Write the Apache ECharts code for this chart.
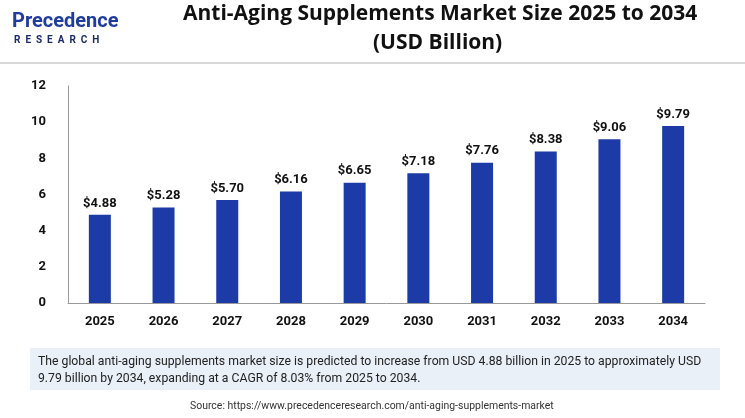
<!DOCTYPE html>
<html lang="en">
<head>
<meta charset="UTF-8">
<title>Anti-Aging Supplements Market</title>
<script src="https://cdn.jsdelivr.net/npm/echarts@6/dist/echarts.min.js"></script>
<style>
  html, body { margin: 0; padding: 0; background: #fff; }
  #chart { width: 745px; height: 418px; }
</style>
</head>
<body>
<div id="chart"></div>
<script>
var years = ['2025', '2026', '2027', '2028', '2029', '2030', '2031', '2032', '2033', '2034'];
var values = [4.88, 5.28, 5.70, 6.16, 6.65, 7.18, 7.76, 8.38, 9.06, 9.79];

var chart = echarts.init(document.getElementById('chart'));
var font = 'Roboto, "Liberation Sans", sans-serif';

var option = {
    animation: false,
    grid: { left: 68, right: 40, top: 86, bottom: 115 },
    xAxis: {
        type: 'category',
        data: years,
        axisLine: { lineStyle: { color: '#999' } },
        axisTick: { show: false },
        axisLabel: { color: '#111', fontWeight: 'bold', fontSize: 13, fontFamily: font, margin: 12 }
    },
    yAxis: {
        type: 'value',
        min: 0, max: 12, interval: 2,
        axisLine: { show: true, lineStyle: { color: '#999' } },
        splitLine: { show: false },
        axisLabel: { color: '#111', fontWeight: 'bold', fontSize: 13, fontFamily: font, margin: 22 }
    },
    series: [{
        type: 'bar',
        data: values,
        barWidth: 22,
        itemStyle: { color: '#1c3ba6' },
        label: {
            show: true, position: 'top', distance: 5,
            formatter: function (p) { return '$' + p.value.toFixed(2); },
            color: '#111', fontWeight: 'bold', fontSize: 13, fontFamily: font
        }
    }],
    graphic: [
        // logo
        { type: 'text', left: 12, top: 12, style: { text: 'Precedence', fill: '#1f3d9c', font: 'bold 20px ' + font } },
        { type: 'text', left: 14, top: 35, style: { text: 'R  E  S  E  A  R  C  H', fill: '#1a2a6c', font: 'bold 10px ' + font } },
        // title
        { type: 'text', left: 183, top: 4, style: { text: 'Anti-Aging Supplements Market Size 2025 to 2034', fill: '#111', font: 'bold 21px "Open Sans", sans-serif' } },
        { type: 'text', left: 373, top: 33, style: { text: '(USD Billion)', fill: '#111', font: 'bold 21px "Open Sans", sans-serif' } },
        // separator
        { type: 'rect', shape: { x: 0, y: 62, width: 745, height: 2 }, style: { fill: '#d8d8d8' } },
        // note box
        { type: 'rect', shape: { x: 30, y: 348, width: 690, height: 42 }, style: { fill: '#e9f0f8' } },
        { type: 'text', x: 38, y: 353, scaleX: 0.94, style: {
            text: 'The global anti-aging supplements market size is predicted to increase from USD 4.88 billion in 2025 to approximately USD\n9.79 billion by 2034, expanding at a CAGR of 8.03% from 2025 to 2034.',
            fill: '#222', font: '13px ' + font, lineHeight: 17 } },
        { type: 'text', x: 190, y: 401, scaleX: 0.95, style: {
            text: 'Source: https://www.precedenceresearch.com/anti-aging-supplements-market',
            fill: '#333', font: '11px ' + font } }
    ]
};
chart.setOption(option);
</script>
</body>
</html>
